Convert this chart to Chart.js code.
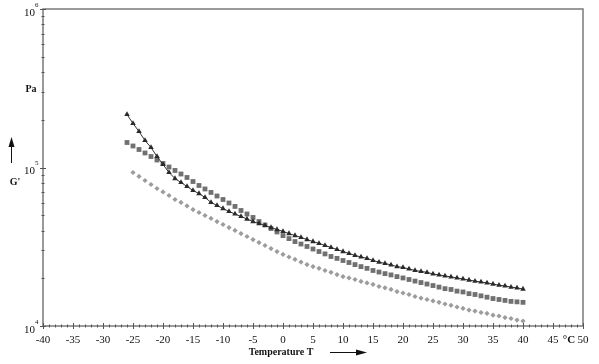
<!DOCTYPE html>
<html>
<head>
<meta charset="utf-8">
<script src="https://cdn.jsdelivr.net/npm/chart.js@4.4.1/dist/chart.umd.min.js"></script>
<style>
  html, body { margin: 0; padding: 0; background: #fff; }
  #wrap { width: 599px; height: 364px; }
</style>
</head>
<body>
<div id="wrap"><canvas id="chart" width="599" height="364"></canvas></div>
<script>
// temperatures (°C) for the triangle and square series
const tempsTS = [];
for (let t = -26; t <= 40; t++) tempsTS.push(t);
// temperatures for the diamond series
const tempsD = [];
for (let t = -25; t <= 40; t++) tempsD.push(t);

// G' values in Pa
const gTriangle = [
  216000, 189500, 168700, 148000, 133700, 117300, 104500, 93000, 85200, 80400,
  75900, 71600, 68500, 64700, 60200, 57600, 55100, 52800, 50900, 49100,
  47300, 45600, 44300, 43100, 41800, 40600,
  39500, 38300, 37200, 36200, 35100, 34100, 33200, 32200, 31300, 30400,
  29500, 28700, 27850, 27300, 26700, 25900, 25300, 24800, 24300, 23700,
  23400, 22900, 22400, 22100, 21800, 21300, 21000, 20700, 20400, 20100,
  19800, 19500, 19200, 18950, 18700, 18400, 18100, 17900, 17600, 17400, 17100
];
const gSquare = [
  143800, 136700, 129900, 123500, 117300, 111500, 106000, 100700, 95800, 91000,
  86500, 81600, 77000, 73200, 69600, 66100, 62800, 59700, 56800, 53550,
  50900, 48400, 45600, 43400, 41200, 39200,
  37200, 35600, 34100, 32900, 31750, 30600, 29500, 28500, 27450, 26700,
  25900, 25150, 24400, 23700, 23100, 22400, 21900, 21400, 21000, 20500,
  20100, 19650, 19200, 18800, 18400, 18000, 17600, 17200, 17000, 16600,
  16400, 16000, 15800, 15500, 15200, 14900, 14700, 14500, 14300, 14200, 14100
];
const gDiamond = [
  93000, 87800, 82800, 78100, 73700, 70100, 66600, 62800, 60200, 57200,
  54300, 52000, 49800, 47700, 45600, 43700, 41800, 40100, 38300, 36700,
  35100, 33600, 32200, 30800, 29500,
  28300, 27250, 26300, 25300, 24400, 23700, 23100, 22400, 21800, 21100,
  20500, 20100, 19650, 19100, 18700, 18300, 17750, 17400, 17000, 16500,
  16150, 15800, 15350, 15000, 14700, 14400, 14100, 13770, 13500, 13180,
  12900, 12600, 12430, 12170, 12000, 11700, 11560, 11300, 11150, 10900, 10750
];

const xTickLabels = [-40, -35, -30, -25, -20, -15, -10, -5, 0, 5, 10, 15, 20, 25, 30, 35, 40, 45, 50];
const yDecades = [4, 5, 6];

const pts = (xs, ys) => xs.map((x, i) => ({ x: x, y: ys[i] }));
const serif = '"Liberation Serif", "DejaVu Serif", serif';

const decor = {
  id: 'decor',
  afterDraw(chart) {
    const ctx = chart.ctx;
    const a = chart.chartArea;
    const xs = chart.scales.x, ys = chart.scales.y;
    ctx.save();
    // frame
    ctx.strokeStyle = '#7a7a7a';
    ctx.lineWidth = 1.5;
    ctx.strokeRect(a.left, a.top, a.right - a.left, a.bottom - a.top);

    // x ticks
    ctx.strokeStyle = '#555';
    ctx.lineWidth = 1;
    for (let v = -40; v <= 50; v++) {
      const px = Math.round(xs.getPixelForValue(v)) + 0.5;
      const h = v % 5 === 0 ? 3 : 1.5;
      ctx.beginPath();
      ctx.moveTo(px, a.bottom - h);
      ctx.lineTo(px, a.bottom + h);
      ctx.stroke();
    }
    // y ticks
    yDecades.forEach((d, i) => {
      const base = Math.pow(10, d);
      const py = Math.round(ys.getPixelForValue(base)) + 0.5;
      ctx.beginPath();
      ctx.moveTo(a.left - 3, py);
      ctx.lineTo(a.left + 3, py);
      ctx.stroke();
      if (i < yDecades.length - 1) {
        for (let m = 2; m <= 9; m++) {
          const my = Math.round(ys.getPixelForValue(base * m)) + 0.5;
          ctx.beginPath();
          ctx.moveTo(a.left - 1.5, my);
          ctx.lineTo(a.left + 1.5, my);
          ctx.stroke();
        }
      }
    });

    // y labels 10^n
    ctx.fillStyle = '#111';
    ctx.textBaseline = 'middle';
    yDecades.forEach(d => {
      const py = ys.getPixelForValue(Math.pow(10, d));
      ctx.font = '11px ' + serif;
      ctx.textAlign = 'right';
      ctx.fillText('10', 35, py + 4);
      ctx.font = '7px ' + serif;
      ctx.textAlign = 'left';
      ctx.fillText(String(d), 35, py - 4);
    });

    // axis names
    ctx.font = 'bold 10px ' + serif;
    ctx.textAlign = 'center';
    ctx.fillText('Pa', 31, 89);
    ctx.fillText("G'", 15, 182);
    ctx.fillText('Temperature T', 281, 352);
    ctx.font = 'bold 11px ' + serif;
    ctx.fillText('°C', 569, 340);

    // arrows
    ctx.strokeStyle = '#111';
    ctx.lineWidth = 1;
    ctx.beginPath();
    ctx.moveTo(11.5, 163);
    ctx.lineTo(11.5, 145);
    ctx.stroke();
    ctx.beginPath();
    ctx.moveTo(11.5, 137);
    ctx.lineTo(8.5, 147);
    ctx.lineTo(14.5, 147);
    ctx.closePath();
    ctx.fill();

    ctx.beginPath();
    ctx.moveTo(330, 352.5);
    ctx.lineTo(358, 352.5);
    ctx.stroke();
    ctx.beginPath();
    ctx.moveTo(367, 352.5);
    ctx.lineTo(356, 349.5);
    ctx.lineTo(356, 355.5);
    ctx.closePath();
    ctx.fill();
    ctx.restore();
  }
};

new Chart(document.getElementById('chart'), {
  type: 'scatter',
  data: {
    datasets: [
      {
        label: 'triangles',
        data: pts(tempsTS, gTriangle),
        showLine: true,
        borderColor: '#333',
        borderWidth: 1,
        pointStyle: 'triangle',
        pointRadius: 3.2,
        pointBackgroundColor: '#2a2a2a',
        pointBorderColor: '#2a2a2a',
        pointBorderWidth: 0
      },
      {
        label: 'squares',
        data: pts(tempsTS, gSquare),
        showLine: false,
        pointStyle: 'rect',
        pointRadius: 3.4,
        pointBackgroundColor: '#707070',
        pointBorderColor: '#707070',
        pointBorderWidth: 0
      },
      {
        label: 'diamonds',
        data: pts(tempsD, gDiamond),
        showLine: false,
        pointStyle: 'rectRot',
        pointRadius: 2.6,
        pointBackgroundColor: '#9c9c9c',
        pointBorderColor: '#9c9c9c',
        pointBorderWidth: 0
      }
    ]
  },
  options: {
    responsive: false,
    animation: false,
    devicePixelRatio: 1,
    layout: { padding: { top: 9, right: 16, left: 0, bottom: 0 } },
    plugins: { legend: { display: false }, tooltip: { enabled: false } },
    scales: {
      x: {
        type: 'linear',
        min: -40,
        max: 50,
        afterFit(s) { s.height = 38; },
        afterBuildTicks(s) { s.ticks = xTickLabels.map(v => ({ value: v })); },
        grid: { display: false, drawTicks: false },
        border: { display: false },
        ticks: {
          padding: 8,
          maxRotation: 0,
          autoSkip: false,
          color: '#111',
          font: { family: serif, size: 11 }
        }
      },
      y: {
        type: 'logarithmic',
        min: 10000,
        max: 1000000,
        afterFit(s) { s.width = 43; },
        grid: { display: false, drawTicks: false },
        border: { display: false },
        ticks: { display: false }
      }
    }
  },
  plugins: [decor]
});
</script>
</body>
</html>
